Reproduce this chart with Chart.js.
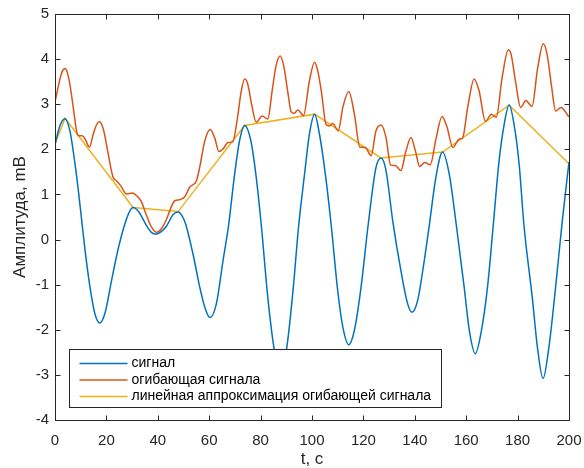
<!DOCTYPE html>
<html>
<head>
<meta charset="utf-8">
<script src="https://cdn.jsdelivr.net/npm/chart.js"></script>
<style>
  body { margin: 0; background: #fff; }
  #wrap { width: 584px; height: 468px; }
</style>
</head>
<body>
<div id="wrap"><canvas id="grafico" width="584" height="468"></canvas></div>
<script>
// сигнал
let tSignal = [0, 1.5, 2.8, 3.9, 5.8, 7.8, 9.1, 10.4, 11.7, 13.6, 15.5, 17.4, 19.4, 22, 24.6, 27.2, 29, 30.4,
  32.5, 35.6, 37.5, 39.3, 41.2, 43.4, 45.9, 47.9, 49.5, 50.8, 53.7, 56.3, 58.3, 60.3, 62.8, 65.4, 67.5,
  69.9, 71.8, 73.8, 76.2, 78.3, 80.3, 82.8, 85.4, 87.7, 90, 92.5, 94.8, 97.1, 99, 101, 102.9, 105.5,
  107.5, 110, 112, 114.3, 116.5, 119.1, 121.8, 124.9, 126.9, 128.8, 131.4, 134.6, 137.2, 138.9, 141.1,
  143.7, 145.6, 148.2, 150.8, 153.4, 156.2, 159.2, 161.2, 163.5, 165.7, 168.3, 170.5, 172.8, 174.8,
  176.7, 178.6, 180.6, 182.5, 185.7, 187.7, 189.9, 192.2, 194.8, 197.4, 200];
let signal = [2.10, 2.45, 2.63, 2.68, 2.41, 1.67, 1.08, 0.42, -0.24, -1.05, -1.64, -1.85, -1.64, -0.91, -0.20, 0.35, 0.62, 0.71,
  0.62, 0.31, 0.16, 0.12, 0.17, 0.30, 0.55, 0.61, 0.52, 0.35, -0.32, -1.05, -1.50, -1.73, -1.42, -0.46, 0.30,
  1.45, 2.19, 2.53, 2.19, 1.38, 0.30, -1.28, -2.46, -2.83, -2.46, -1.20, 0.30, 1.45, 2.34, 2.78, 2.34, 1.31,
  0.30, -1.13, -1.94, -2.33, -2.01, -1.05, 0.30, 1.60, 1.81, 1.53, 0.42, -0.69, -1.42, -1.61, -1.35,
  -0.46, 0.30, 1.38, 1.94, 1.45, 0.30, -1.05, -2.01, -2.53, -2.09, -1.05, 0.30, 1.75, 2.56,
  2.98, 2.56, 1.67, 0.30, -1.28, -2.38, -3.08, -2.38, -1.05, 0.42, 1.72];

// огибающая
let tEnvelope = [0, 1.5, 2.6, 3.9, 4.8, 5.8, 7.1, 8.4, 9.3, 10.6, 11.7, 13.4, 14.9, 16.2, 17.3, 18.8, 20.7, 22.6,
  24, 25.6, 27.8, 30.2, 32, 33.5, 35.5, 37.5, 39.5, 41.5, 43.4, 45.2, 46.6, 48.5, 50.5, 52.4, 55, 56.3,
  58.3, 60.4, 62.1, 63.8, 65.4, 67.3, 69.2, 71, 72.5, 73.8, 75, 76.5, 78.3, 80.6, 82.8, 84.5, 86, 87.6,
  89, 90.5, 91.9, 93, 94.5, 96.7, 99, 101, 102.2, 103.6, 105.5, 106.8, 108.1, 110.2, 112, 114.3, 116.5,
  118.6, 120.7, 123, 124.9, 126.9, 128.8, 130.6, 132.4, 134.6, 136.5, 138.5, 140.3, 141.9, 143.9, 146,
  148.3, 150.6, 152.5, 154.8, 157.3, 158.6, 160.5, 163.1, 165, 167.5, 169.8, 171.7, 174, 176.4, 177.5,
  179.2, 181.2, 183.2, 185.6, 187.8, 190, 191.5, 193.2, 194.8, 196.9, 199.7, 200];
let envelope = [3.05, 3.45, 3.70, 3.79, 3.70, 3.44, 2.93, 2.41, 2.30, 2.30, 2.23, 2.05, 2.34, 2.55, 2.61, 2.45, 1.90, 1.38,
  1.30, 1.19, 1.01, 1.03, 0.96, 0.85, 0.55, 0.28, 0.16, 0.25, 0.45, 0.72, 0.86, 0.88, 0.95, 1.16, 1.30, 1.60,
  2.19, 2.44, 2.26, 1.95, 2.01, 2.15, 2.17, 2.70, 3.30, 3.56, 3.45, 3.00, 2.60, 2.74, 2.67, 3.30, 3.85, 4.07,
  3.85, 3.30, 2.83, 2.80, 2.87, 2.75, 3.52, 3.93, 3.75, 3.30, 2.55, 2.52, 2.57, 2.41, 2.93, 3.28, 2.78,
  2.05, 2.04, 1.86, 2.41, 2.54, 2.26, 1.65, 1.64, 1.53, 1.95, 2.26, 1.95, 1.62, 1.71, 1.66,
  2.25, 2.73, 2.50, 2.04, 2.23, 2.25, 2.90, 3.56, 3.30, 2.62, 2.78, 2.71, 3.60, 4.21, 4.10,
  3.50, 2.93, 3.08, 2.95, 3.80, 4.34, 4.10, 3.40, 2.85, 2.93, 2.74, 2.72];

// линейная аппроксимация огибающей
let tApprox = [0, 3.9, 30.4, 47.9, 73.8, 101, 126.8, 150.8, 176.7, 200];
let approx = [2.12, 2.69, 0.71, 0.62, 2.53, 2.78, 1.81, 1.94, 2.98, 1.68];

let xTicks = [0, 20, 40, 60, 80, 100, 120, 140, 160, 180, 200];
let yTicks = [-4, -3, -2, -1, 0, 1, 2, 3, 4, 5];

let etichette = ["сигнал", "огибающая сигнала", "линейная аппроксимация огибающей сигнала"];
let colori = ["#0072BD", "#D95319", "#EDB120"];

const FONT = "'Liberation Sans', Arial, Helvetica, sans-serif";
const AXIS = "#262626";

function punti(t, v) {
  return t.map((x, i) => ({ x: x, y: v[i] }));
}

// riquadro degli assi con tacche verso l'interno
const boxAssi = {
  id: 'boxAssi',
  afterDatasetsDraw(chart) {
    const ctx = chart.ctx, a = chart.chartArea;
    const sx = chart.scales.x, sy = chart.scales.y;
    const L = Math.round(a.left) + 0.5, R = Math.round(a.right) + 0.5;
    const T = Math.round(a.top) + 0.5, B = Math.round(a.bottom) + 0.5;
    ctx.save();
    ctx.strokeStyle = AXIS;
    ctx.lineWidth = 1;
    ctx.beginPath();
    ctx.rect(L, T, R - L, B - T);
    xTicks.forEach(v => {
      const px = Math.round(sx.getPixelForValue(v)) + 0.5;
      ctx.moveTo(px, B); ctx.lineTo(px, B - 5);
      ctx.moveTo(px, T); ctx.lineTo(px, T + 5);
    });
    yTicks.forEach(v => {
      const py = Math.round(sy.getPixelForValue(v)) + 0.5;
      ctx.moveTo(L, py); ctx.lineTo(L + 5, py);
      ctx.moveTo(R, py); ctx.lineTo(R - 5, py);
    });
    ctx.stroke();
    ctx.restore();
  }
};

// legenda in basso a sinistra
const legenda = {
  id: 'legenda',
  afterDraw(chart) {
    const ctx = chart.ctx, a = chart.chartArea;
    const x0 = Math.round(a.left) + 14.5, y0 = Math.round(a.bottom) - 70.5;
    const w = 372, h = 58;
    ctx.save();
    ctx.fillStyle = "#fff";
    ctx.fillRect(x0, y0, w, h);
    ctx.strokeStyle = AXIS;
    ctx.lineWidth = 1;
    ctx.strokeRect(x0, y0, w, h);
    ctx.font = "14px " + FONT;
    ctx.textBaseline = "middle";
    ctx.textAlign = "left";
    for (let i = 0; i < etichette.length; i++) {
      const y = y0 + 14 + i * 16.5;
      ctx.strokeStyle = colori[i];
      ctx.lineWidth = 1.5;
      ctx.beginPath();
      ctx.moveTo(x0 + 10, y);
      ctx.lineTo(x0 + 58, y);
      ctx.stroke();
      ctx.fillStyle = "#000";
      ctx.fillText(etichette[i], x0 + 62, y);
    }
    ctx.restore();
  }
};

function dataset(i, t, v, curva) {
  return {
    label: etichette[i],
    data: punti(t, v),
    borderColor: colori[i],
    backgroundColor: colori[i],
    borderWidth: 1.5,
    pointRadius: 0,
    fill: false,
    cubicInterpolationMode: curva ? 'monotone' : 'default',
    tension: 0
  };
}

let ctx = document.getElementById("grafico");
let grafico = new Chart(ctx, {
  type: 'line',
  data: {
    datasets: [
      dataset(0, tSignal, signal, true),
      dataset(1, tEnvelope, envelope, true),
      dataset(2, tApprox, approx, false)
    ]
  },
  options: {
    responsive: false,
    animation: false,
    layout: { padding: { left: 0, right: 15, top: 14, bottom: 0 } },
    plugins: {
      legend: { display: false },
      tooltip: { enabled: false }
    },
    scales: {
      x: {
        type: 'linear',
        min: 0,
        max: 200,
        afterBuildTicks: s => { s.ticks = xTicks.map(v => ({ value: v })); },
        afterFit: s => { s.height = 48; s.paddingLeft = 0; s.paddingRight = 0; },
        grid: { display: false, drawTicks: false },
        border: { display: false },
        ticks: { color: AXIS, font: { family: FONT, size: 15 }, padding: 12, maxRotation: 0 },
        title: { display: true, text: "t, с", color: AXIS, font: { family: FONT, size: 17 }, padding: { top: 0, bottom: -2 } }
      },
      y: {
        type: 'linear',
        min: -4,
        max: 5,
        afterBuildTicks: s => { s.ticks = yTicks.map(v => ({ value: v })); },
        afterFit: s => { s.width = 55; s.paddingTop = 0; s.paddingBottom = 0; },
        grid: { display: false, drawTicks: false },
        border: { display: false },
        ticks: { color: AXIS, font: { family: FONT, size: 15 }, padding: 6 },
        title: { display: true, text: "Амплитуда, mВ", color: AXIS, font: { family: FONT, size: 17 }, padding: { top: 10, bottom: 0 } }
      }
    }
  },
  plugins: [boxAssi, legenda]
});
</script>
</body>
</html>
